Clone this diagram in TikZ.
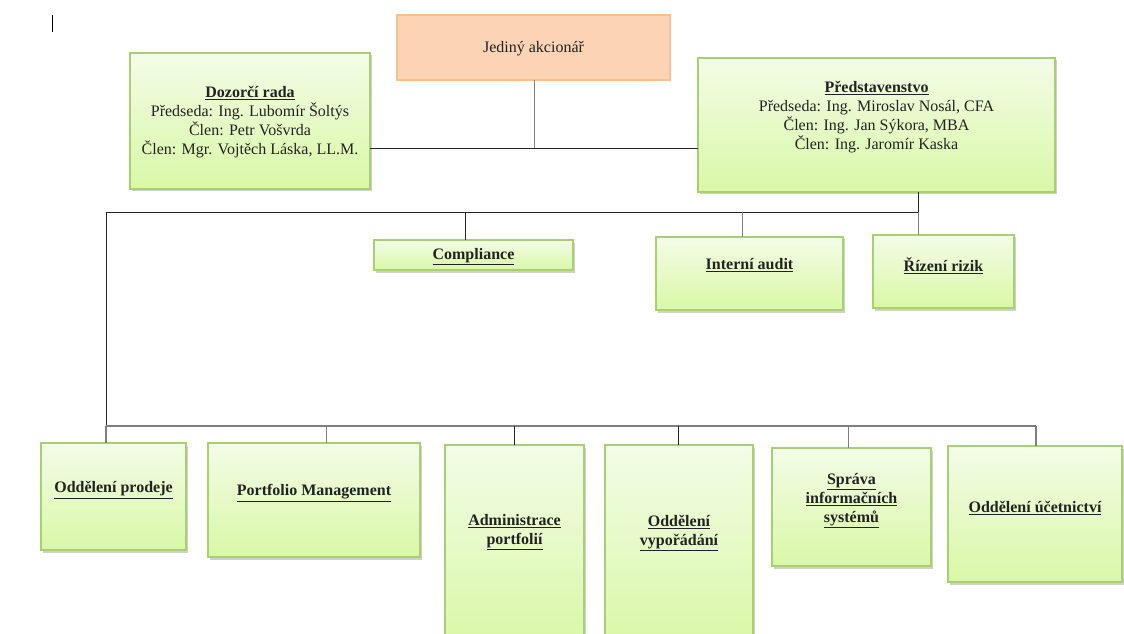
\documentclass[tikz,border=0pt]{standalone}
\usepackage{fontspec}
\setmainfont{Liberation Serif}
\usetikzlibrary{shadows}
\definecolor{gborder}{HTML}{A8CF72}
\definecolor{gtop}{HTML}{F3FCE7}
\definecolor{gbot}{HTML}{D9F8A6}
\definecolor{oborder}{HTML}{FBC08E}
\definecolor{ofill}{HTML}{FAD4B4}
\definecolor{lgray}{HTML}{7F7F7F}
\definecolor{txt}{HTML}{222222}
\tikzset{
  gbox/.style={draw=gborder, line width=1.2pt, top color=gtop, bottom color=gbot,
    drop shadow={shadow xshift=1.5pt, shadow yshift=-2.5pt, opacity=0.3, fill=black!60},
    inner sep=0pt, outer sep=0pt},
  obox/.style={draw=oborder, line width=2pt, fill=ofill, inner sep=0pt, outer sep=0pt},
  lbl/.style={font=\fontsize{16}{19}\selectfont, text=txt, align=center, inner sep=0pt},
  ttl/.style={font=\fontsize{16}{19}\selectfont\bfseries, text=txt, align=center, inner sep=0pt},
  conn/.style={draw=black!85, line width=0.9pt},
  conng/.style={draw=lgray, line width=1.5pt},
}
\begin{document}
\begin{tikzpicture}[x=1pt,y=1pt]
\clip (0,0) rectangle (1124,633);
\fill[white] (0,0) rectangle (1124,633);
% cursor mark
\coordinate (cur1) at (52,618);
\coordinate (cur2) at (52,601);
\draw[black, line width=1pt] (cur1) -- (cur2);

% boxes
\node[obox, minimum width=273pt, minimum height=65pt] (jed) at (533.5,585.5) {};
\node[gbox, minimum width=240pt, minimum height=136pt] (doz) at (250,512) {};
\node[gbox, minimum width=357pt, minimum height=134pt] (pred) at (876.5,508) {};
\node[gbox, minimum width=199pt, minimum height=30pt] (comp) at (473.5,378) {};
\node[gbox, minimum width=187pt, minimum height=73pt] (aud) at (749.5,359.5) {};
\node[gbox, minimum width=141pt, minimum height=73pt] (riz) at (943.5,361.5) {};
\node[gbox, minimum width=145pt, minimum height=107pt] (prod) at (113.5,136.5) {};
\node[gbox, minimum width=212pt, minimum height=114pt] (pm) at (314,133) {};
\node[gbox, minimum width=139pt, minimum height=200pt] (adm) at (514.5,88) {};
\node[gbox, minimum width=148pt, minimum height=200pt] (vyp) at (679,88) {};
\node[gbox, minimum width=159pt, minimum height=118pt] (isys) at (851.5,126) {};
\node[gbox, minimum width=174pt, minimum height=136pt] (uct) at (1035,119) {};

% texts
\node[lbl] (tjed) at (533.5,584) {Jediný akcionář};
\node[lbl] (tdoz) at (250,510.5) {\textbf{\underline{Dozorčí rada}}\\Předseda: Ing. Lubomír Šoltýs\\Člen: Petr Vošvrda\\Člen: Mgr. Vojtěch Láska, LL.M.};
\node[lbl] (tpred) at (876.5,515.5) {\textbf{\underline{Představenstvo}}\\Předseda: Ing. Miroslav Nosál, CFA\\Člen: Ing. Jan Sýkora, MBA\\Člen: Ing. Jaromír Kaska};
\node[ttl] (tcomp) at (473.5,376) {\underline{Compliance}};
\node[ttl] (taud) at (749.5,367.5) {\underline{Interní audit}};
\node[ttl] (triz) at (943.5,367.5) {\underline{Řízení rizik}};
\node[ttl] (tprod) at (113.5,143) {\underline{Oddělení prodeje}};
\node[ttl] (tpm) at (314,140) {\underline{Portfolio Management}};
\node[ttl] (tadm) at (514.5,101) {\underline{Administrace}\\\underline{portfolií}};
\node[ttl] (tvyp) at (679,100) {\underline{Oddělení}\\\underline{vypořádání}};
\node[ttl] (tisys) at (851.5,132.5) {\underline{Správa}\\\underline{informačních}\\\underline{systémů}};
\node[ttl] (tuct) at (1035,125) {\underline{Oddělení účetnictví}};

% junction coordinates
\coordinate (j0) at (534.7,485);
\coordinate (b1) at (918.5,421);
\coordinate (b1l) at (106,421);
\coordinate (xc) at (465.5,421);
\coordinate (xa) at (742.7,421);
\coordinate (b2l) at (106,207);
\coordinate (b2r) at (1036,207);
\coordinate (x2) at (326.7,207);
\coordinate (x3) at (514.3,207);
\coordinate (x4) at (678.3,207);
\coordinate (x5) at (848.7,207);

% top connectors
\draw[conng] (jed.south -| j0) -- (j0);
\draw[conn] (doz.east |- j0) -- (pred.west |- j0);
\draw[conn] (pred.south -| b1) -- (b1);
\draw[conn] (b1l) -- (b1);
\draw[conn] (xc) -- (comp.north -| xc);
\draw[conng] (xa) -- (aud.north -| xa);
\draw[conng] (b1) -- (riz.north -| b1);
\draw[conn] (b1l) -- (b2l);
% bottom bus
\draw[conng] (b2l) -- (b2r);
\draw[conng] (b2l) -- (prod.north -| b2l);
\draw[conng] (x2) -- (pm.north -| x2);
\draw[conn] (x3) -- (adm.north -| x3);
\draw[conn] (x4) -- (vyp.north -| x4);
\draw[conng] (x5) -- (isys.north -| x5);
\draw[conng] (b2r) -- (uct.north -| b2r);
\end{tikzpicture}
\end{document}
